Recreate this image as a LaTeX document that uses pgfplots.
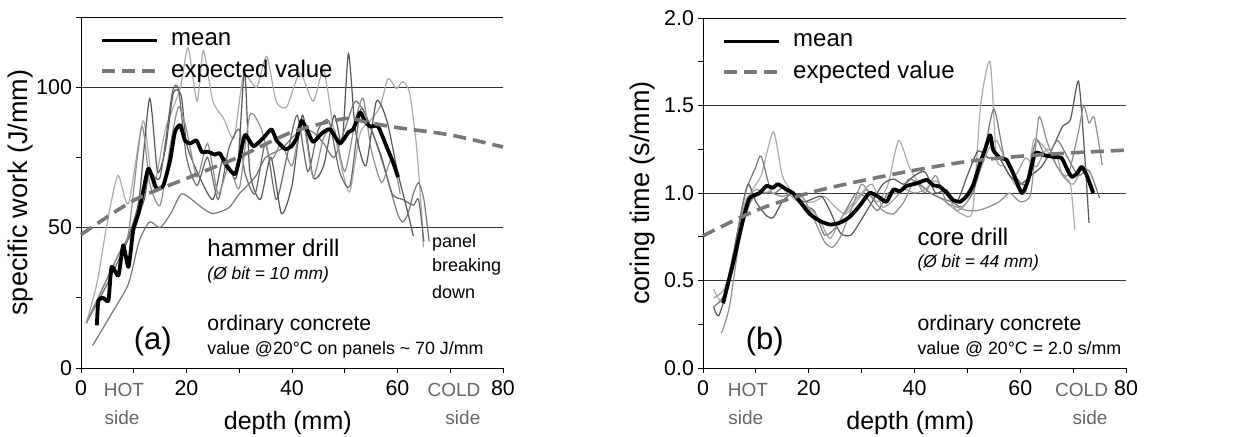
\documentclass[border=0pt]{standalone}
\usepackage{fontspec}
\setmainfont{Liberation Sans}
\usepackage{pgfplots}
\pgfplotsset{compat=1.18}
\definecolor{ga}{HTML}{ABABAB}
\definecolor{gb}{HTML}{555555}
\definecolor{gc}{HTML}{777777}
\definecolor{gd}{HTML}{666666}
\definecolor{ge}{HTML}{8E8E8E}
\definecolor{expc}{HTML}{777777}
\definecolor{sidec}{HTML}{666666}
\tikzset{sidelab/.style={font=\fontsize{9.5}{11}\selectfont, text=sidec},
  ann/.style={anchor=west, inner sep=0pt}}
\begin{document}
\begin{tikzpicture}
\useasboundingbox (0,0) rectangle (621pt,218pt);
\pgfplotsset{
 common/.style={
  scale only axis, clip=false,
  xmin=0, xmax=80, xtick={0,20,...,80}, minor xtick={10,30,50,70},
  axis x line*=bottom, axis y line*=left,
  tick align=outside, major tick length=2.5pt, minor tick length=2.5pt,
  every tick/.style={black, line width=0.5pt},
  axis line style={line width=0.5pt, black},
  ticklabel style={font=\fontsize{10.7}{12}\selectfont},
  yticklabel style={xshift=1.5pt},
  /pgf/number format/assume math mode=true,
  ymajorgrids, grid style={line width=0.5pt, black!80},
  xlabel={depth (mm)},
  xlabel style={at={(axis description cs:0.49,-0.157)}, anchor=center, font=\fontsize{12.5}{14}\selectfont},
  ylabel style={at={(axis description cs:-0.143,0.5)}, anchor=center, font=\fontsize{13.5}{15}\selectfont},
  legend style={at={(axis description cs:0.045,0.968)}, anchor=north west, draw=none, fill=none,
    font=\fontsize{12}{14}\selectfont, row sep=2pt, inner sep=0pt},
  legend cell align=left,
  legend image code/.code={\draw[##1] (0pt,0pt) -- (27.5pt,0pt); \path (31.5pt,0pt);},
  gray/.style={line width=0.6pt, smooth, tension=0.4},
  meanl/.style={line width=1.9pt, black, smooth, tension=0.35, line join=round},
  expl/.style={line width=1.8pt, expc, dash pattern=on 6.5pt off 3.5pt, smooth},
 },
}
% ---------------- (a) ----------------
\begin{axis}[common, at={(40.5pt,34pt)}, anchor=south west, width=211pt, height=175.5pt,
  ymin=0, ymax=125, ytick={0,50,100}, minor ytick={25,75,125},
  ylabel={specific work (J/mm)}]
\addplot[gray, ga, forget plot] coordinates {(1,16) (3,30) (5,52) (7,68.6) (9,58.5) (11.8,88) (13.7,64.5) (16,85) (18.8,99.5) (20.3,114) (22,95) (23.2,113) (25,95) (27,89) (29,82) (30.8,104) (33.3,100) (35.2,111) (37,95) (39,93) (41.5,105) (44,95) (46,106) (47.8,86) (49.7,69) (51,63) (52.9,83.5) (54.8,88) (56.7,93) (58.2,103) (59.8,99.5) (61,102) (62.3,98) (63.6,79) (64.6,54) (64.9,43)};
\addplot[gray, gb, forget plot] coordinates {(1,16) (4,28) (7,40) (9,47) (11,60) (13,96) (14.5,70) (16,78) (17.5,98) (19,97) (20,80) (22,70) (25,60) (27,75) (29.5,68) (31,106) (32,70) (34,60) (36,75) (38,55) (40,65) (42,90) (44,68) (46,72) (48,90) (49.5,80) (50.7,112) (52,85) (54,72) (56,95) (58,88) (60,70) (62,55) (63,47)};
\addplot[gray, gc, forget plot] coordinates {(2.2,8) (6,20) (9,30) (11,45) (13,52) (15,50) (17,55) (19,62) (21,60) (23,57) (25,55) (28,57) (30,62) (33,68) (35,75) (38,78) (40,82) (42,85) (44,84) (46,80) (48,75) (50,85) (52,95) (54,90) (56,80) (58,68) (60,55) (61,52) (62,55) (63,62) (64,66) (65,60) (66,45)};
\addplot[gray, gd, forget plot] coordinates {(1,16) (5,30) (8,42) (10,50) (12,60) (13,70) (15,68) (17.3,98) (18.5,99) (20,75) (22,65) (24,75) (26,60) (28,78) (30,85) (31,70) (33,62) (35,80) (37,60) (39,75) (41,90) (43,70) (45,85) (47,88) (49,70) (51,65) (53,92) (55,85) (57,75) (59,62) (61,60) (63,58) (64,60) (65,45)};
\addplot[gray, ge, forget plot] coordinates {(1,16) (4,28) (7,40) (9,48) (11.5,86) (13,66) (15,58) (17,80) (18.5,93) (20,85) (22,68) (24,80) (26,62) (28,72) (30,64) (32,90) (34,86) (36,74) (38,80) (40,72) (42,88) (44,68) (46,82) (48,85) (50,70) (52,88) (53.5,96) (55,78) (57,66) (59,75) (60.5,62)};
\addplot[meanl] coordinates {(3,15.2) (3.3,24) (4.2,25) (5.2,24) (5.8,36) (7.1,33) (8,43.7) (9,36) (9.9,49) (10.9,55) (11.8,63) (12.8,71) (14.3,64) (15.6,65) (16.9,74) (17.8,84) (18.8,86.5) (19.7,81) (20.7,80) (21.9,81) (22.9,77) (24.1,77) (25.4,76) (26.3,76.5) (27.6,72) (29.2,69) (30.1,75) (31.1,83) (32.7,79) (34.6,82) (36.1,85) (37.1,81) (38.7,78) (39.9,79) (40.9,82) (41.8,88) (42.8,85) (44,80.5) (45.6,83.5) (47.2,85) (49.1,80) (50.7,84) (51.6,85) (52.9,91) (53.8,88) (54.8,86) (56.3,86) (57.9,79) (59.2,73) (60.1,68)};
\addlegendentry{mean}
\addplot[expl] coordinates {(0,47.5) (10,59.7) (20,67.5) (30,75.2) (40,84) (50,88.8) (54,87.6) (60,85.6) (70,83) (80,78.7)};
\addlegendentry{expected value}
\draw[line width=0.5pt] (rel axis cs:0,1) -- (rel axis cs:1,1);
\node[ann, font=\fontsize{12}{13}\selectfont] at (axis cs:23.9,42.7) {hammer drill};
\node[ann, font=\fontsize{8.7}{10}\selectfont\itshape] at (axis cs:23.9,33.1) {(Ø bit = 10 mm)};
\node[ann, font=\fontsize{10.6}{12}\selectfont] at (axis cs:23.9,15.3) {ordinary concrete};
\node[ann, font=\fontsize{8.9}{10}\selectfont] at (axis cs:23.9,6.4) {value @20°C on panels \textasciitilde{} 70 J/mm};
\node[font=\fontsize{15.5}{17}\selectfont] at (axis cs:13.6,9.3) {(a)};
\node[ann, font=\fontsize{9}{10}\selectfont] at (axis cs:66.5,44.5) {panel};
\node[ann, font=\fontsize{9}{10}\selectfont] at (axis cs:66.5,36) {breaking};
\node[ann, font=\fontsize{9}{10}\selectfont] at (axis cs:66.5,27) {down};
\node[sidelab, yshift=-11pt] at (axis cs:8.15,0) {HOT};
\node[sidelab, yshift=-25pt] at (axis cs:7.8,0) {side};
\node[sidelab, yshift=-11pt] at (axis cs:70.7,0) {COLD};
\node[sidelab, yshift=-25pt] at (axis cs:72.4,0) {side};
\end{axis}
% ---------------- (b) ----------------
\begin{axis}[common, at={(351.5pt,34pt)}, anchor=south west, width=211.5pt, height=175pt,
  ymin=0, ymax=2, ytick={0,0.5,1,1.5,2}, minor ytick={0.25,0.75,1.25,1.75},
  yticklabel style={/pgf/number format/.cd, fixed, fixed zerofill, precision=1},
  ylabel={coring time (s/mm)}]
\addplot[gray, ga, forget plot] coordinates {(2,0.45) (3.5,0.38) (5,0.5) (7,0.8) (9,1.0) (11,1.1) (13.3,1.35) (15,1.1) (17,1.0) (19,0.95) (21,0.95) (23,0.98) (25,0.92) (27,0.88) (29,0.95) (31,1.02) (33,0.95) (35,1.05) (37,1.3) (39,1.15) (41,1.05) (43,1.0) (45,0.97) (47,0.92) (49,0.88) (51,0.9) (52.5,1.5) (54.3,1.75) (55.5,1.2) (57,1.15) (59,1.05) (61,1.0) (62.5,1.3) (64,1.28) (66,1.2) (68,1.1) (69.5,1.05) (70.3,0.79)};
\addplot[gray, gb, forget plot] coordinates {(2,0.35) (3,0.3) (5,0.5) (7,0.85) (8.5,1.05) (10,0.95) (12,0.87) (13.3,0.86) (15,0.95) (17,1.0) (19,0.95) (21,0.97) (22.5,0.98) (24,0.9) (26,0.77) (28,0.76) (30,0.85) (32,0.95) (34,1.05) (36,1.08) (38,1.05) (40,1.1) (42,1.12) (44,1.0) (46,1.02) (48,0.95) (50,1.1) (52,1.24) (54,1.2) (56,1.2) (58,1.1) (60,1.05) (62,1.1) (64,1.15) (66,1.25) (68,1.38) (69.5,1.42) (71,1.64) (72,1.3) (73,0.83)};
\addplot[gray, gc, forget plot] coordinates {(2,0.35) (4,0.42) (6,0.7) (8,1.0) (10,1.15) (11,1.21) (13,1.0) (15,1.03) (17,1.0) (19,0.93) (21,0.9) (23,0.76) (25,0.8) (27,0.9) (29,1.0) (31,0.97) (33,0.9) (35,1.0) (37,1.0) (39,1.08) (41,1.05) (43,1.0) (45,0.97) (47,0.95) (49,0.92) (51,1.0) (53,1.2) (55,1.48) (57,1.2) (59,1.1) (61,1.05) (63,1.3) (65,1.2) (67,1.3) (69,1.2) (71,1.1) (73,1.13) (75,0.97)};
\addplot[gray, ge, forget plot] coordinates {(3.5,0.2) (5,0.35) (7,0.75) (9,0.95) (11,1.0) (13,1.0) (15,0.98) (17,1.0) (19,0.97) (21,0.85) (23,0.72) (24.5,0.69) (26,0.75) (28,0.9) (30,1.05) (32,0.97) (34,0.9) (36,0.88) (38,0.95) (40,1.07) (42,1.0) (44,1.1) (46,0.95) (48,0.92) (50,0.9) (52,0.9) (54,0.92) (56,0.95) (58,1.0) (60,0.95) (62,1.0) (63.5,1.43) (65,1.3) (67,1.15) (69,1.1) (71,1.35) (72,1.5) (73,1.4) (74,1.43) (75.5,1.16)};
\addplot[gray, gc!70, forget plot] coordinates {(2,0.4) (4,0.45) (6,0.65) (8,0.95) (10,1.02) (12,1.0) (14,1.05) (16,1.0) (18,0.95) (20,0.92) (22,0.85) (24,0.74) (26,0.85) (28,0.93) (30,1.0) (32,1.05) (34,0.92) (36,0.96) (38,1.02) (40,1.0) (42,1.02) (44,1.07) (46,1.0) (48,0.9) (50,0.95) (52,1.1) (54,1.25) (55.5,1.3) (57,1.2) (59,1.1) (61,1.2) (63,1.15) (65,1.25) (67,1.2) (68,1.1) (70,1.05) (72,1.15) (73.5,1.1)};
\addplot[meanl] coordinates {(3.8,0.37) (5.7,0.6) (7.6,0.85) (8.8,0.97) (10.7,1.0) (12,1.04) (13.2,1.03) (14.2,1.05) (15.8,1.02) (17,1.0) (18.6,0.94) (20.2,0.88) (22.1,0.84) (24,0.82) (25.9,0.83) (27.8,0.865) (29.7,0.93) (31.5,1.0) (33.1,0.98) (34.7,0.95) (36,1.02) (37.2,1.01) (38.5,1.04) (40.4,1.055) (42.3,1.075) (43.5,1.045) (44.8,1.036) (46.1,1.0) (47.3,0.96) (48.6,0.95) (49.8,0.98) (51.1,1.046) (52.4,1.17) (53.3,1.245) (54.3,1.33) (54.9,1.245) (56.2,1.2) (57.4,1.19) (58.7,1.11) (60.3,1.0) (61.5,1.074) (62.8,1.226) (64.4,1.217) (66.2,1.207) (67.8,1.2) (68.8,1.14) (69.7,1.093) (70.7,1.11) (71.6,1.15) (72.6,1.1) (73.8,1.0)};
\addlegendentry{mean}
\addplot[expl] coordinates {(0,0.755) (10,0.9) (20,1.0) (30,1.07) (40,1.13) (50,1.18) (60,1.21) (70,1.23) (80,1.245)};
\addlegendentry{expected value}
\draw[line width=0.5pt] (rel axis cs:0,1) -- (rel axis cs:1,1);
\node[ann, font=\fontsize{12}{13}\selectfont] at (axis cs:40.5,0.749) {core drill};
\node[ann, font=\fontsize{8.7}{10}\selectfont\itshape] at (axis cs:40.5,0.60) {(Ø bit = 44 mm)};
\node[ann, font=\fontsize{10.6}{12}\selectfont] at (axis cs:40.5,0.246) {ordinary concrete};
\node[ann, font=\fontsize{8.9}{10}\selectfont] at (axis cs:40.5,0.109) {value @ 20°C = 2.0 s/mm};
\node[font=\fontsize{15.5}{17}\selectfont] at (axis cs:11.7,0.149) {(b)};
\node[sidelab, yshift=-11pt] at (axis cs:8.5,0) {HOT};
\node[sidelab, yshift=-25pt] at (axis cs:8.1,0) {side};
\node[sidelab, yshift=-11pt] at (axis cs:71.6,0) {COLD};
\node[sidelab, yshift=-25pt] at (axis cs:73.2,0) {side};
\end{axis}
\end{tikzpicture}
\end{document}
